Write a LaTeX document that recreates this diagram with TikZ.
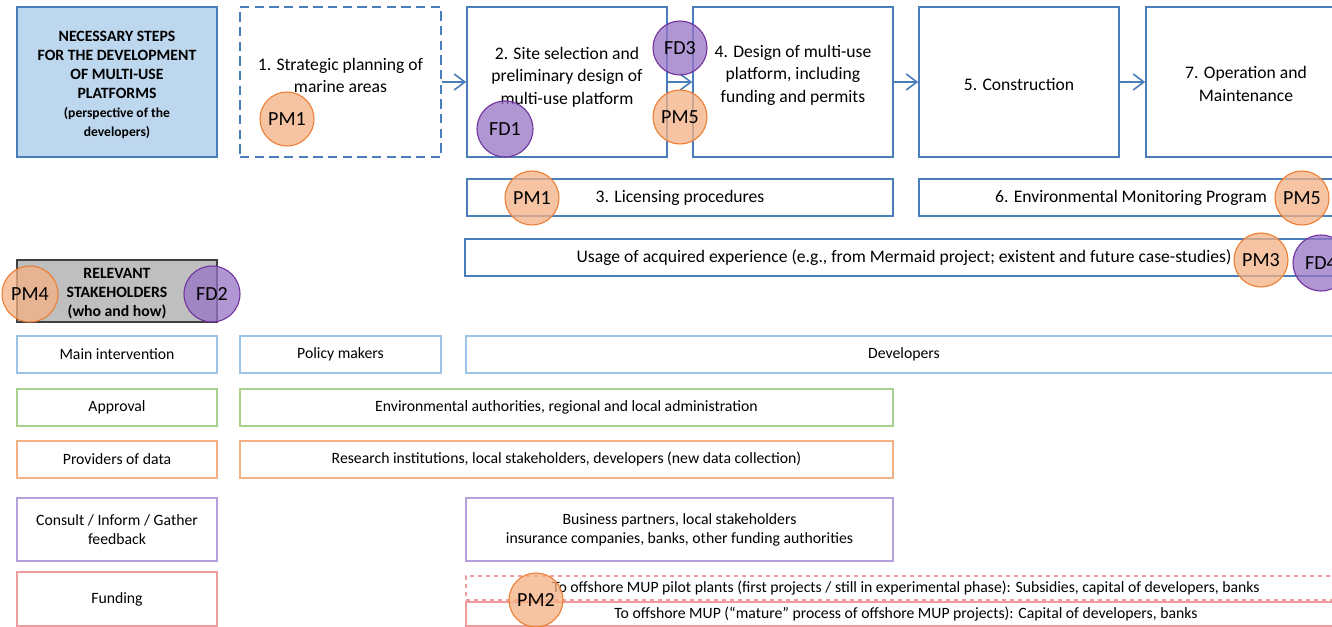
\documentclass[tikz,border=0pt]{standalone}
\usepackage{fontspec}
\setmainfont{Carlito}
\usetikzlibrary{arrows.meta}
\newlength\ux \setlength\ux{0.75pt}
\definecolor{stepblue}{HTML}{4A7EBB}
\definecolor{titlefill}{HTML}{BDD7EE}
\definecolor{grayfill}{HTML}{BFBFBF}
\definecolor{grayline}{HTML}{404040}
\definecolor{rowblue}{HTML}{9DC3E6}
\definecolor{rowgreen}{HTML}{A9D18E}
\definecolor{roworange}{HTML}{F4B183}
\definecolor{rowpurple}{HTML}{B4A0DC}
\definecolor{rowred}{HTML}{F19C9C}
\definecolor{pmfill}{HTML}{F4B183}
\definecolor{pmline}{HTML}{ED7D31}
\definecolor{fdfill}{HTML}{9673C4}
\definecolor{fdline}{HTML}{7030A0}
\begin{document}
\begin{tikzpicture}[x=0.75pt,y=-0.75pt,
  stepbox/.style={draw=stepblue, line width=1.2pt, fill=white, align=center, inner sep=0pt,
    font=\fontsize{13.2}{16.5}\selectfont},
  steptext/.style={align=center, inner sep=0pt, font=\fontsize{13.2}{16.9}\selectfont},
  titlebox/.style={draw=stepblue, line width=1.2pt, fill=titlefill, inner sep=0pt},
  titletext/.style={align=center, inner sep=0pt, font=\bfseries\fontsize{11.8}{14.25}\selectfont},
  relbox/.style={draw=grayline, line width=1pt, fill=grayfill, inner sep=0pt},
  rowbox/.style={line width=0.8pt, fill=white, align=center, inner sep=0pt,
    font=\fontsize{11.8}{14.25}\selectfont},
  flow/.style={draw=stepblue, line width=1.2pt, -{Straight Barb[length=8pt,width=12pt,line width=1.2pt]}},
  circ/.style={circle, minimum size=54\ux, inner sep=0pt, line width=0.8pt,
    fill opacity=0.75, text opacity=1, font=\fontsize{15}{15}\selectfont},
  pm/.style={circ, draw=pmline, fill=pmfill},
  fd/.style={circ, draw=fdline, fill=fdfill}]
\clip (0,0) rectangle (1332,627);
\fill[white] (0,0) rectangle (1332,627);
% top row
\node[titlebox, minimum width=200\ux, minimum height=150\ux] (title) at (117,82) {};
\node[titletext] (titlet) at (117,85)
  {NECESSARY STEPS\\FOR THE DEVELOPMENT\\OF MULTI-USE\\PLATFORMS\\\fontsize{10.2}{13}\selectfont(perspective of the\\\fontsize{10.2}{13}\selectfont developers)};
\node[stepbox, dashed, dash pattern=on 7pt off 4pt, minimum width=201\ux, minimum height=150\ux] (s1) at (340.5,82) {};
\node[steptext] (s1t) at (340.5,75.5) {1. Strategic planning of\\marine areas};
\node[stepbox, minimum width=200\ux, minimum height=150\ux] (s2) at (567,82) {};
\node[steptext] (s2t) at (567,77) {2. Site selection and\\preliminary design of\\multi-use platform};
\node[stepbox, minimum width=200\ux, minimum height=150\ux] (s4) at (793,82) {};
\node[steptext] (s4t) at (793,75) {4. Design of multi-use\\platform, including\\funding and permits};
\node[stepbox, minimum width=200\ux, minimum height=150\ux] (s5) at (1019,82) {};
\node[steptext] (s5t) at (1019,84) {5. Construction};
\node[stepbox, minimum width=200\ux, minimum height=150\ux] (s7) at (1246,82) {};
\node[steptext] (s7t) at (1246,84) {7. Operation and\\Maintenance};
\draw[flow] (s1.east) -- (s2.west);
\draw[flow] (s2.east) -- (s4.west);
\draw[flow] (s4.east) -- (s5.west);
\draw[flow] (s5.east) -- (s7.west);
% second/third rows
\node[stepbox, minimum width=426\ux, minimum height=37\ux] (s3) at (680,197.5)
  {3. Licensing procedures};
\node[stepbox, minimum width=424\ux, minimum height=37\ux] (s6) at (1131,197.5)
  {6. Environmental Monitoring Program};
\node[stepbox, minimum width=878\ux, minimum height=37\ux] (usage) at (904,257.5)
  {Usage of acquired experience (e.g., from Mermaid project; existent and future case-studies)};
% stakeholders
\node[relbox, minimum width=200\ux, minimum height=62\ux] (rel) at (117,291) {};
\node[titletext] (relt) at (117,294) {RELEVANT\\STAKEHOLDERS\\(who and how)};
\node[rowbox, draw=rowblue, minimum width=200\ux, minimum height=37\ux] (main) at (117,354.5) {Main intervention};
\node[rowbox, draw=rowblue, minimum width=201\ux, minimum height=37\ux] (policy) at (340.5,354.5) {Policy makers};
\node[rowbox, draw=rowblue, minimum width=876\ux, minimum height=37\ux] (dev) at (904,354.5) {Developers};
\node[rowbox, draw=rowgreen, minimum width=200\ux, minimum height=37\ux] (appr) at (117,407.5) {Approval};
\node[rowbox, draw=rowgreen, minimum width=653\ux, minimum height=37\ux] (env) at (566.5,407.5)
  {Environmental authorities, regional and local administration};
\node[rowbox, draw=roworange, minimum width=200\ux, minimum height=37\ux] (prov) at (117,459.5) {Providers of data};
\node[rowbox, draw=roworange, minimum width=653\ux, minimum height=37\ux] (res) at (566.5,459.5)
  {Research institutions, local stakeholders, developers (new data collection)};
\node[rowbox, draw=rowpurple, minimum width=200\ux, minimum height=63\ux] (cons) at (117,529.5)
  {Consult / Inform / Gather\\feedback};
\node[rowbox, draw=rowpurple, minimum width=427\ux, minimum height=63\ux] (bus) at (679.5,529.5)
  {Business partners, local stakeholders\\insurance companies, banks, other funding authorities};
\node[rowbox, draw=rowred, minimum width=200\ux, minimum height=54\ux] (fund) at (117,599) {Funding};
\node[rowbox, draw=rowred, dashed, minimum width=880\ux, minimum height=24\ux] (pilot) at (906,588)
  {To offshore MUP pilot plants (first projects / still in experimental phase): Subsidies, capital of developers, banks};
\node[rowbox, draw=rowred, minimum width=880\ux, minimum height=24\ux] (mature) at (906,614)
  {To offshore MUP (“mature” process of offshore MUP projects): Capital of developers, banks};
% circles
\node[pm] (pma) at (287,119) {PM1};
\node[fd, minimum size=56\ux] (fda) at (505,129) {FD1};
\node[fd] (fdc) at (680,48) {FD3};
\node[pm] (pmea) at (680,117) {PM5};
\node[pm] (pmb) at (532,198) {PM1};
\node[pm] (pmeb) at (1302,198) {PM5};
\node[pm] (pmc) at (1261,260) {PM3};
\node[fd, minimum size=56\ux] (fdd) at (1321,263) {FD4};
\node[pm, minimum size=56\ux] (pmd) at (30,294) {PM4};
\node[fd, minimum size=56\ux] (fdb) at (212,294) {FD2};
\node[pm] (pmf) at (536,600) {PM2};
\end{tikzpicture}
\end{document}
